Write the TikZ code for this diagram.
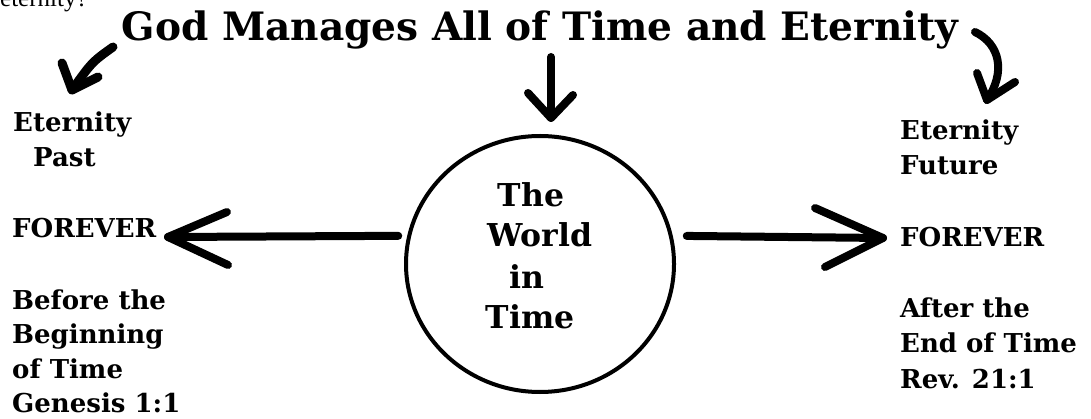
\documentclass[tikz,border=0pt]{standalone}
\usepackage{fontspec}
\setmainfont{DejaVu Serif}
\newfontfamily\timesf{Liberation Serif}
\usetikzlibrary{shapes.geometric}
\begin{document}
\begin{tikzpicture}[x=1pt,y=-1pt,
  sidetxt/.style={font=\bfseries\fontsize{26}{35}\selectfont, inner sep=0pt, anchor=base west},
  worldtxt/.style={font=\bfseries\fontsize{31.5}{40}\selectfont, inner sep=0pt, anchor=base},
  handline/.style={line width=8pt, line cap=round, line join=round},
  worldshape/.style={ellipse, draw, line width=4pt, minimum width=268pt, minimum height=256pt, inner sep=0pt}
]
\useasboundingbox (0,0) rectangle (1091,419);
\clip (0,0) rectangle (1091,419);
% cut-off fragment at the top
\node[font=\timesf\fontsize{25}{28}\selectfont, inner sep=0pt, anchor=base west] (frag) at (0,7) {eternity?};
% title
\node[font=\bfseries\fontsize{39.1}{48}\selectfont, inner sep=0pt, anchor=base] (title) at (540,41) {God Manages All of Time and Eternity};
% world
\node[worldshape] (world) at (540,264) {};
\node[worldtxt] (w1) at (531,207) {The};
\node[worldtxt] (w2) at (540,247) {World};
\node[worldtxt] (w3) at (527,288) {in};
\node[worldtxt] (w4) at (530,328) {Time};
% left column
\node[sidetxt] (lp1) at (13,132) {Eternity};
\node[sidetxt] (lp2) at (33,167) {Past};
\node[sidetxt] (lf) at (12,238) {FOREVER};
\node[sidetxt] (lb1) at (12,309) {Before the};
\node[sidetxt] (lb2) at (12,343) {Beginning};
\node[sidetxt] (lb3) at (12,378) {of Time};
\node[sidetxt] (lb4) at (12,412) {Genesis 1:1};
% right column
\node[sidetxt] (rf1) at (900,140) {Eternity};
\node[sidetxt] (rf2) at (900,175) {Future};
\node[sidetxt] (rf) at (900,247) {FOREVER};
\node[sidetxt] (ra1) at (900,317) {After the};
\node[sidetxt] (ra2) at (900,352) {End of Time};
\node[sidetxt] (ra3) at (900,388) {Rev. 21:1};
% arrow coordinates
\coordinate (ltip) at (168,237);
\coordinate (lbu) at (227,212);
\coordinate (lbd) at (228,265);
\coordinate (rtip) at (883,238);
\coordinate (rbu) at (815,208);
\coordinate (rbd) at (825,267);
\coordinate (dtop) at (551,57);
\coordinate (dtip) at (551,118);
\coordinate (dbl) at (528,93);
\coordinate (dbr) at (573,95);
\coordinate (tlstart) at (113,47);
\coordinate (tltip) at (72,90);
\coordinate (tlbu) at (62,63);
\coordinate (tlbr) at (98,77);
\coordinate (trstart) at (975,32);
\coordinate (trtip) at (987,100);
\coordinate (trbl) at (977,73);
\coordinate (trbr) at (1015,82);
% horizontal arrows
\draw[handline, shorten <=9pt] (world.168) -- (ltip);
\draw[handline] (lbu) -- (ltip) -- (lbd);
\draw[handline, shorten <=14pt] (world.12) -- (rtip);
\draw[handline] (rbu) -- (rtip) -- (rbd);
% down arrow
\draw[handline] (dtop) -- (dtip);
\draw[handline] (dbl) -- (dtip) -- (dbr);
% curved arrows
\draw[handline, line width=9pt] (tlstart) .. controls (92,62) .. (tltip);
\draw[handline, line width=9pt] (tlbu) -- (tltip) -- (tlbr);
\draw[handline, line width=8pt] (trstart) .. controls (1000,44) and (1006,72) .. (trtip);
\draw[handline, line width=8pt] (trbl) -- (trtip) -- (trbr);
\end{tikzpicture}
\end{document}
